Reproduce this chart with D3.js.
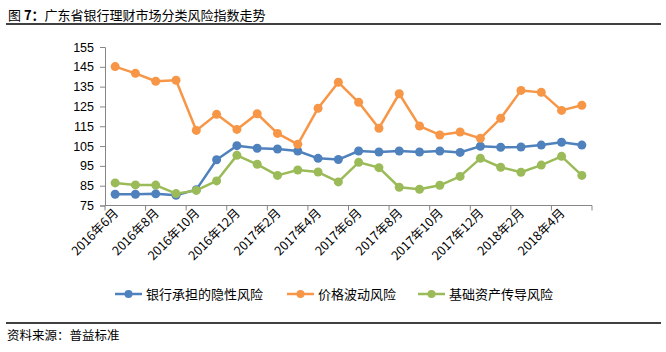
<!DOCTYPE html>
<html>
<head>
<meta charset="utf-8">
<script src="https://cdn.jsdelivr.net/npm/d3@7"></script>
<style>
  html, body { margin: 0; padding: 0; background: #fff; }
  svg { display: block; }
</style>
</head>
<body>
<svg id="chart" width="666" height="352"></svg>
<script>
const categories = [
  "2016年6月","2016年7月","2016年8月","2016年9月","2016年10月","2016年11月",
  "2016年12月","2017年1月","2017年2月","2017年3月","2017年4月","2017年5月",
  "2017年6月","2017年7月","2017年8月","2017年9月","2017年10月","2017年11月",
  "2017年12月","2018年1月","2018年2月","2018年3月","2018年4月","2018年5月"
];
const bankRisk = [80.7, 80.7, 80.9, 80.2, 83.0, 98.1, 105.2, 103.9, 103.5, 102.5, 98.8, 98.2,
                  102.5, 102.0, 102.5, 102.0, 102.5, 101.8, 104.9, 104.4, 104.5, 105.5, 106.9, 105.5];
const priceRisk = [145.1, 141.7, 137.7, 138.2, 112.9, 121.0, 113.4, 121.3, 111.4, 105.9, 124.1, 137.2,
                   127.1, 114.0, 131.4, 115.1, 110.6, 112.1, 108.9, 119.0, 133.1, 132.1, 123.0, 125.6];
const assetRisk = [86.4, 85.4, 85.3, 81.0, 82.6, 87.4, 100.3, 95.8, 90.2, 92.9, 91.9, 86.9,
                   96.8, 94.1, 84.2, 83.2, 85.2, 89.7, 98.8, 94.3, 91.8, 95.4, 99.8, 90.2];
const seriesNames = ["银行承担的隐性风险", "价格波动风险", "基础资产传导风险"];
const seriesColors = ["#4F81BD", "#F79646", "#9BBB59"];
const yTicks = [75, 85, 95, 105, 115, 125, 135, 145, 155];
const titleText = "广东省银行理财市场分类风险指数走势";
const sourceText = "资料来源：普益标准";

const svg = d3.select("#chart");
const cjk = "'Noto Sans CJK SC', 'Noto Sans', sans-serif";
const num = "'Liberation Sans', 'DejaVu Sans', sans-serif";

// Title
const t = svg.append("text").attr("x", 8).attr("y", 19.5)
  .attr("font-family", cjk).attr("font-size", 13).attr("fill", "#000");
t.append("tspan").text("图 ");
t.append("tspan").attr("font-weight", "bold").text("7：");
t.append("tspan").text(titleText);
svg.append("line").attr("x1", 6).attr("x2", 661).attr("y1", 24).attr("y2", 24)
  .attr("stroke", "#000").attr("stroke-width", 1.5);

// Footer
svg.append("line").attr("x1", 6).attr("x2", 661).attr("y1", 323).attr("y2", 323)
  .attr("stroke", "#000").attr("stroke-width", 1.5);
svg.append("text").attr("x", 7).attr("y", 340)
  .attr("font-family", cjk).attr("font-size", 12.5).attr("fill", "#000").text(sourceText);

// Scales
const x = d3.scaleBand().domain(categories).range([105, 592]).paddingInner(0).paddingOuter(0);
const y = d3.scaleLinear().domain([75, 155]).range([205.5, 47]);
const cx = d => x(d) + x.bandwidth() / 2;

// Y axis
const yAxis = d3.axisLeft(y).tickValues(yTicks).tickSize(5).tickPadding(6).tickFormat(d3.format("d"));
const gy = svg.append("g").attr("transform", "translate(105,0)").call(yAxis);
gy.select(".domain").attr("stroke", "#868686");
gy.selectAll(".tick line").attr("stroke", "#868686");
gy.selectAll(".tick text").attr("font-family", num).attr("font-size", 12.5).attr("fill", "#000");

// X axis: ticks at category boundaries every 2 categories
const boundaries = d3.range(0, categories.length + 1, 2).map(i => 105 + i * x.bandwidth());
const gx = svg.append("g");
gx.append("line").attr("x1", 105).attr("x2", 592).attr("y1", 205.5).attr("y2", 205.5)
  .attr("stroke", "#868686");
gx.selectAll("line.tk").data(boundaries).join("line").attr("class", "tk")
  .attr("x1", d => d).attr("x2", d => d).attr("y1", 205.5).attr("y2", 210.5)
  .attr("stroke", "#868686");
const labelCats = categories.filter((d, i) => i % 2 === 0);
gx.selectAll("text.xl").data(labelCats).join("text").attr("class", "xl")
  .attr("transform", d => `translate(${cx(d) + 4},${214}) rotate(-45)`)
  .attr("text-anchor", "end").attr("font-family", cjk).attr("font-size", 12.5)
  .attr("fill", "#000").text(d => d);

// Series
const allSeries = [bankRisk, priceRisk, assetRisk];
const line = d3.line().x((d, i) => cx(categories[i])).y(d => y(d));
allSeries.forEach((vals, si) => {
  const g = svg.append("g");
  g.append("path").datum(vals).attr("d", line).attr("fill", "none")
    .attr("stroke", seriesColors[si]).attr("stroke-width", 2.5).attr("stroke-linejoin", "round");
  g.selectAll("circle").data(vals).join("circle")
    .attr("cx", (d, i) => cx(categories[i])).attr("cy", d => y(d)).attr("r", 4.5)
    .attr("fill", seriesColors[si]);
});

// Legend
const legendX = [115, 287, 418];
seriesNames.forEach((name, i) => {
  const g = svg.append("g").attr("transform", `translate(${legendX[i]},294)`);
  g.append("line").attr("x1", 0).attr("x2", 27).attr("y1", 0).attr("y2", 0)
    .attr("stroke", seriesColors[i]).attr("stroke-width", 2.5);
  g.append("circle").attr("cx", 13.5).attr("cy", 0).attr("r", 4).attr("fill", seriesColors[i]);
  g.append("text").attr("x", 31).attr("y", 4.5).attr("font-family", cjk).attr("font-size", 13)
    .attr("fill", "#000").text(name);
});
</script>
</body>
</html>
